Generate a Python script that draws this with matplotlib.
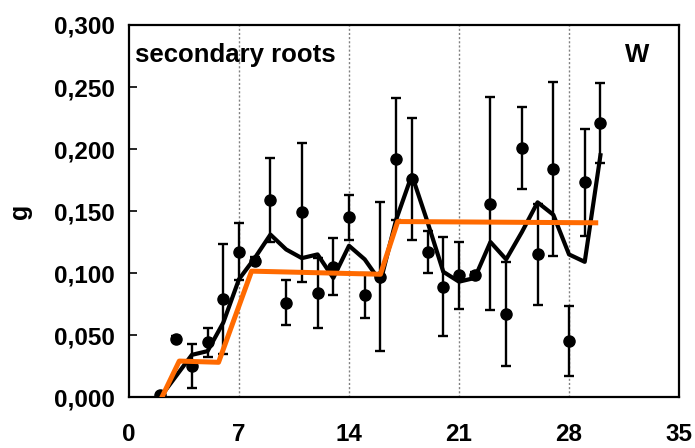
import matplotlib
matplotlib.use('Agg')
import matplotlib.pyplot as plt

# days and measured means with sd
days = list(range(2, 31))
mean_g = [0.002, 0.047, 0.025, 0.044, 0.079, 0.117, 0.110, 0.159, 0.076, 0.149,
          0.084, 0.105, 0.145, 0.082, 0.097, 0.192, 0.176, 0.117, 0.089, 0.098,
          0.098, 0.156, 0.067, 0.201, 0.115, 0.184, 0.045, 0.173, 0.221]
sd_g = [0.000, 0.002, 0.018, 0.012, 0.044, 0.023, 0.003, 0.034, 0.018, 0.056,
        0.028, 0.023, 0.018, 0.018, 0.060, 0.049, 0.049, 0.017, 0.040, 0.027,
        0.003, 0.086, 0.042, 0.033, 0.041, 0.070, 0.028, 0.043, 0.032]

# smoothed curve (black)
smooth_g = [0.000, 0.017, 0.034, 0.037, 0.060, 0.095, 0.112, 0.131, 0.119, 0.112,
            0.115, 0.096, 0.122, 0.111, 0.093, 0.143, 0.179, 0.141, 0.101, 0.093,
            0.096, 0.125, 0.111, 0.133, 0.157, 0.147, 0.115, 0.109, 0.195]

# step model (orange)
step_x = [2.1, 3.2, 5.7, 7.8, 16.0, 17.1, 29.7]
step_y = [0.000, 0.029, 0.028, 0.1015, 0.099, 0.1415, 0.1405]

x_ticks = [0, 7, 14, 21, 28, 35]
y_ticks = [0.0, 0.05, 0.10, 0.15, 0.20, 0.25, 0.30]
y_labels = ['0,000', '0,050', '0,100', '0,150', '0,200', '0,250', '0,300']

plt.rcParams['font.family'] = ['Liberation Sans', 'DejaVu Sans']
plt.rcParams['font.weight'] = 'bold'

fig = plt.figure(figsize=(6.95, 4.48), dpi=100)
ax = fig.add_axes([0.1856, 0.1138, 0.7914, 0.8304])

for x in [7, 14, 21, 28]:
    ax.axvline(x, color='#808080', lw=1.0, ls=(0, (1.5, 1.5)), zorder=1)

ax.errorbar(days, mean_g, yerr=sd_g, fmt='o', color='black', ms=8,
            elinewidth=1.7, capsize=3.8, capthick=1.7, zorder=2)
ax.plot(days, smooth_g, color='black', lw=3.0, zorder=3)
ax.plot(step_x, step_y, color='#ff6a00', lw=3.6, zorder=4)

ax.set_xlim(0, 35)
ax.set_ylim(0, 0.3)
ax.set_xticks(x_ticks)
ax.set_yticks(y_ticks)
ax.set_yticklabels(y_labels)
ax.tick_params(axis='y', direction='in', length=6, width=1.2, labelsize=17.5, pad=10)
ax.tick_params(axis='x', direction='in', length=0, labelsize=17.5, pad=19)
for lab in ax.get_xticklabels() + ax.get_yticklabels():
    lab.set_fontweight('bold')
for sp in ax.spines.values():
    sp.set_linewidth(1.6)

ax.set_ylabel('g', fontsize=18, fontweight='bold', labelpad=16)
ax.text(0.011, 0.9, 'secondary roots', transform=ax.transAxes, fontsize=18.5,
        fontweight='bold', va='baseline', ha='left')
ax.text(0.924, 0.9, 'W', transform=ax.transAxes, fontsize=18.5,
        fontweight='bold', va='baseline', ha='center')

fig.savefig('out.png', dpi=100)
